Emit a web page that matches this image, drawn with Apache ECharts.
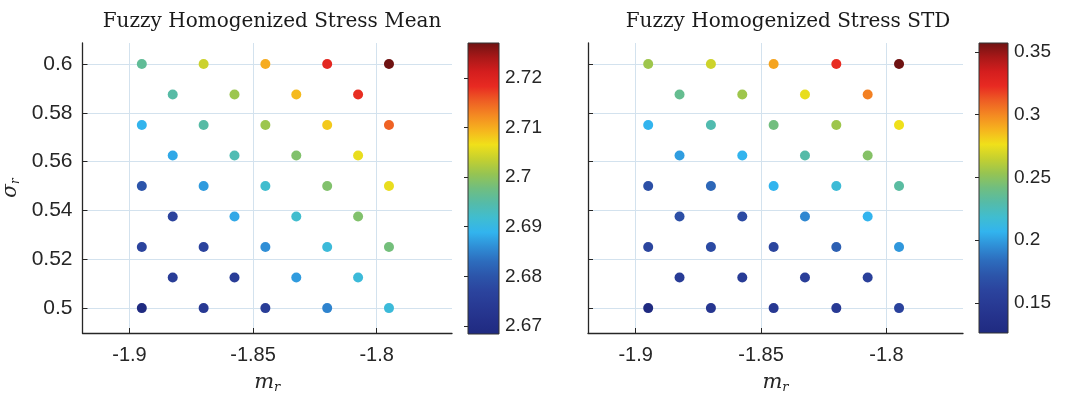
<!DOCTYPE html>
<html>
<head>
<meta charset="utf-8">
<script src="https://cdn.jsdelivr.net/npm/echarts@6/dist/echarts.min.js"></script>
<style>
  html, body { margin: 0; padding: 0; background: #ffffff; }
  #chart { width: 1067px; height: 399px; }
</style>
</head>
<body>
<div id="chart"></div>
<script>
// Sample points on the (m_r, sigma_r) grid, listed row by row from sigma_r = 0.6 down to 0.5
const mr = [
  -1.895, -1.87, -1.845, -1.82, -1.795,
  -1.8825, -1.8575, -1.8325, -1.8075,
  -1.895, -1.87, -1.845, -1.82, -1.795,
  -1.8825, -1.8575, -1.8325, -1.8075,
  -1.895, -1.87, -1.845, -1.82, -1.795,
  -1.8825, -1.8575, -1.8325, -1.8075,
  -1.895, -1.87, -1.845, -1.82, -1.795,
  -1.8825, -1.8575, -1.8325, -1.8075,
  -1.895, -1.87, -1.845, -1.82, -1.795
];
const sigma = [
  0.6, 0.6, 0.6, 0.6, 0.6,
  0.5875, 0.5875, 0.5875, 0.5875,
  0.575, 0.575, 0.575, 0.575, 0.575,
  0.5625, 0.5625, 0.5625, 0.5625,
  0.55, 0.55, 0.55, 0.55, 0.55,
  0.5375, 0.5375, 0.5375, 0.5375,
  0.525, 0.525, 0.525, 0.525, 0.525,
  0.5125, 0.5125, 0.5125, 0.5125,
  0.5, 0.5, 0.5, 0.5, 0.5
];
const stressMean = [
  2.696, 2.704, 2.710, 2.719, 2.727,
  2.695, 2.701, 2.709, 2.718,
  2.689, 2.695, 2.701, 2.708, 2.715,
  2.688, 2.694, 2.699, 2.706,
  2.680, 2.687, 2.692, 2.699, 2.706,
  2.677, 2.688, 2.692, 2.699,
  2.677, 2.677, 2.686, 2.691, 2.698,
  2.675, 2.675, 2.687, 2.691,
  2.6684, 2.674, 2.675, 2.685, 2.691
];
const stressStd = [
  0.255, 0.267, 0.292, 0.322, 0.357,
  0.237, 0.255, 0.274, 0.302,
  0.207, 0.228, 0.242, 0.255, 0.276,
  0.200, 0.207, 0.230, 0.248,
  0.168, 0.181, 0.207, 0.216, 0.232,
  0.168, 0.165, 0.193, 0.207,
  0.161, 0.165, 0.161, 0.177, 0.198,
  0.151, 0.151, 0.154, 0.156,
  0.126, 0.144, 0.147, 0.149, 0.158
];

// Tick labels
const xTicks = [-1.9, -1.85, -1.8];
const yTicks = [0.5, 0.52, 0.54, 0.56, 0.58, 0.6];
const meanTicks = [2.67, 2.68, 2.69, 2.7, 2.71, 2.72];
const stdTicks = [0.15, 0.2, 0.25, 0.3, 0.35];
const titles = ['Fuzzy Homogenized Stress Mean', 'Fuzzy Homogenized Stress STD'];

// Colour map, evenly spaced from low to high
const colormap = [
  '#1f2a80', '#24318a', '#283a94', '#2b449e', '#2c55aa', '#2d6cbd', '#2f8ed6',
  '#32b4ee', '#40bdd0', '#55bba8', '#70be80', '#96c452', '#c4d030', '#f0e01a',
  '#f6b41e', '#f48a22', '#ee5e24', '#e82a22', '#d41e1e', '#a81818', '#6e1212'
];

const xRange = [-1.919, -1.7695];
const yRange = [0.4898, 0.6086];

const meanMin = Math.min(...stressMean), meanMax = Math.max(...stressMean);
const stdMin = Math.min(...stressStd), stdMax = Math.max(...stressStd);

const ink = '#262626';
const sansFont = 'Liberation Sans';
const serifFont = 'DejaVu Serif';
const gridLine = '#d3e2ee';

function plotXAxis(gridIndex) {
  return {
    type: 'value', gridIndex, min: xRange[0], max: xRange[1],
    axisLine: { show: true, onZero: false, lineStyle: { color: ink, width: 1.3 } },
    axisTick: { show: true, inside: true, length: 5, customValues: xTicks, lineStyle: { color: ink } },
    axisLabel: { customValues: xTicks, fontSize: 20, margin: 12, color: ink, fontFamily: sansFont },
    splitLine: { show: true, lineStyle: { color: gridLine, width: 1 } },
    name: '{m|m}{r|r}', nameLocation: 'middle', nameGap: 38,
    nameTextStyle: {
      rich: {
        m: { fontFamily: serifFont, fontStyle: 'italic', fontSize: 21, color: ink },
        r: { fontFamily: serifFont, fontStyle: 'italic', fontSize: 13, color: ink, verticalAlign: 'bottom', padding: [10, 0, 0, 0] }
      }
    }
  };
}

function plotYAxis(gridIndex, showLabels) {
  const axis = {
    type: 'value', gridIndex, min: yRange[0], max: yRange[1],
    axisLine: { show: true, onZero: false, lineStyle: { color: ink, width: 1.3 } },
    axisTick: { show: true, inside: true, length: 5, customValues: yTicks, lineStyle: { color: ink } },
    axisLabel: { show: showLabels, customValues: yTicks, fontSize: 21, margin: 10, color: ink, fontFamily: sansFont },
    splitLine: { show: true, lineStyle: { color: gridLine, width: 1 } }
  };
  if (showLabels) {
    axis.name = '{s|σ}{r|r}';
    axis.nameLocation = 'middle';
    axis.nameGap = 61;
    axis.nameRotate = 90;
    axis.nameTextStyle = {
      rich: {
        s: { fontFamily: serifFont, fontStyle: 'italic', fontSize: 20, color: ink },
        r: { fontFamily: serifFont, fontStyle: 'italic', fontSize: 12, color: ink, verticalAlign: 'bottom', padding: [9, 0, 0, 0] }
      }
    };
  }
  return axis;
}

function colorbarXAxis(gridIndex) {
  return { type: 'value', gridIndex, min: 0, max: 1, show: false };
}

function colorbarYAxis(gridIndex, lo, hi, ticks) {
  return {
    type: 'value', gridIndex, position: 'right', min: lo, max: hi,
    axisLine: { show: false },
    axisTick: { show: true, inside: true, length: 4, customValues: ticks, lineStyle: { color: ink } },
    axisLabel: { customValues: ticks, fontSize: 19, margin: 6, color: ink, fontFamily: sansFont },
    splitLine: { show: false }
  };
}

// Gradient bar spanning the full colour range of a panel
function colorbarSeries(axisIndex, lo, hi) {
  const stops = colormap.map((c, i) => ({ offset: i / (colormap.length - 1), color: c }));
  return {
    type: 'custom', xAxisIndex: axisIndex, yAxisIndex: axisIndex, silent: true,
    data: [[0, lo, 1, hi]],
    encode: { x: [0, 2], y: [1, 3] },
    renderItem(params, api) {
      const topLeft = api.coord([api.value(0), api.value(3)]);
      const bottomRight = api.coord([api.value(2), api.value(1)]);
      return {
        type: 'rect',
        shape: { x: topLeft[0], y: topLeft[1], width: bottomRight[0] - topLeft[0], height: bottomRight[1] - topLeft[1] },
        style: {
          fill: new echarts.graphic.LinearGradient(0, 1, 0, 0, stops),
          stroke: '#333333', lineWidth: 1
        }
      };
    }
  };
}

function scatterSeries(axisIndex, values) {
  return {
    type: 'scatter', xAxisIndex: axisIndex, yAxisIndex: axisIndex,
    symbol: 'circle', symbolSize: 10,
    data: mr.map((x, i) => [x, sigma[i], values[i]]),
    itemStyle: { opacity: 1 },
    emphasis: { disabled: true }
  };
}

const chart = echarts.init(document.getElementById('chart'), null, { renderer: 'canvas' });

chart.setOption({
  backgroundColor: '#ffffff',
  animation: false,
  title: [
    { text: titles[0], left: 267, top: 7, textAlign: 'center',
      textStyle: { fontFamily: serifFont, fontWeight: 'normal', fontSize: 20, color: '#1a1a1a' } },
    { text: titles[1], left: 783, top: 7, textAlign: 'center',
      textStyle: { fontFamily: serifFont, fontWeight: 'normal', fontSize: 20, color: '#1a1a1a' } }
  ],
  grid: [
    { left: 82, top: 43, width: 370, height: 290 },
    { left: 588, top: 43, width: 375, height: 290 },
    { left: 468, top: 43, width: 31, height: 291 },
    { left: 979, top: 43, width: 29, height: 290 }
  ],
  xAxis: [plotXAxis(0), plotXAxis(1), colorbarXAxis(2), colorbarXAxis(3)],
  yAxis: [
    plotYAxis(0, true),
    plotYAxis(1, false),
    colorbarYAxis(2, meanMin, meanMax, meanTicks),
    colorbarYAxis(3, stdMin, stdMax, stdTicks)
  ],
  visualMap: [
    { type: 'continuous', show: false, seriesIndex: 0, dimension: 2, min: meanMin, max: meanMax, inRange: { color: colormap } },
    { type: 'continuous', show: false, seriesIndex: 1, dimension: 2, min: stdMin, max: stdMax, inRange: { color: colormap } }
  ],
  series: [
    scatterSeries(0, stressMean),
    scatterSeries(1, stressStd),
    colorbarSeries(2, meanMin, meanMax),
    colorbarSeries(3, stdMin, stdMax)
  ]
});
</script>
</body>
</html>
